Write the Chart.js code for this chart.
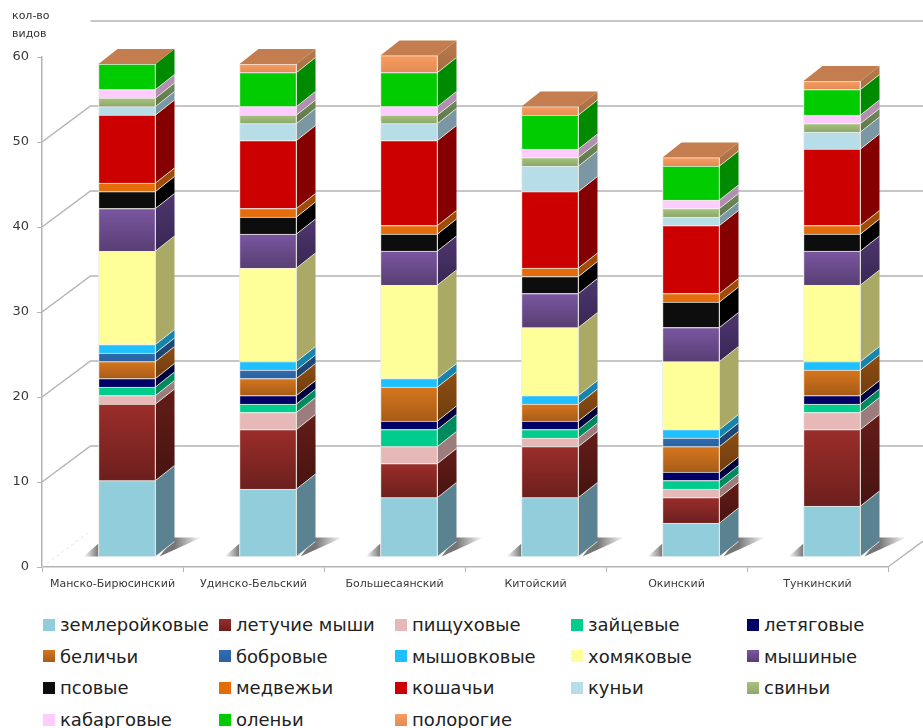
<!DOCTYPE html>
<html lang="ru">
  <head>
    <meta charset="UTF-8" />
    <title>Виды млекопитающих по районам</title>
    <script src="https://cdn.jsdelivr.net/npm/chart.js"></script>
    <style>
      body {
        margin: 0;
        background: #fff;
        font-family: "DejaVu Sans", sans-serif;
      }
      #page {
        position: relative;
        width: 923px;
        height: 728px;
        overflow: hidden;
      }
      canvas {
        position: absolute;
        left: 0;
        top: 0;
      }
      #yTitle {
        position: absolute;
        left: 12px;
        top: 7px;
        font-size: 11px;
        line-height: 18px;
        color: #333;
      }
      #legend {
        position: absolute;
        left: 43px;
        top: 609px;
        display: grid;
        grid-template-columns: repeat(5, 176px);
        grid-auto-rows: 31.6px;
        font-size: 18px;
        color: #222;
      }
      .item {
        display: flex;
        align-items: center;
        white-space: nowrap;
      }
      .swatch {
        width: 12px;
        height: 12px;
        margin-right: 5px;
      }
    </style>
  </head>
  <body>
    <div id="page">
      <canvas id="speciesChart" width="923" height="600"></canvas>
      <div id="yTitle">кол-во<br />видов</div>
      <div id="legend"></div>
    </div>

    <script>
      const districts = ["Манско-Бирюсинский", "Удинско-Бельский", "Большесаянский", "Китойский", "Окинский", "Тункинский"];

      // Species count per district, one array per family
      const zemleroikovye = [9, 8, 7, 7, 4, 6];
      const letuchieMyshi = [9, 7, 4, 6, 3, 9];
      const pishchukhovye = [1, 2, 2, 1, 1, 2];
      const zaitsevye = [1, 1, 2, 1, 1, 1];
      const letyagovye = [1, 1, 1, 1, 1, 1];
      const belichi = [2, 2, 4, 2, 3, 3];
      const bobrovye = [1, 1, 0, 0, 1, 0];
      const myshovkovye = [1, 1, 1, 1, 1, 1];
      const khomyakovye = [11, 11, 11, 8, 8, 9];
      const myshinye = [5, 4, 4, 4, 4, 4];
      const psovye = [2, 2, 2, 2, 3, 2];
      const medvezhi = [1, 1, 1, 1, 1, 1];
      const koshachi = [8, 8, 10, 9, 8, 9];
      const kuni = [1, 2, 2, 3, 1, 2];
      const svini = [1, 1, 1, 1, 1, 1];
      const kabargovye = [1, 1, 1, 1, 1, 1];
      const oleni = [3, 4, 4, 4, 4, 3];
      const polorogie = [0, 1, 2, 1, 1, 1];

      const seriesNames = ["землеройковые", "летучие мыши", "пищуховые", "зайцевые", "летяговые", "беличьи", "бобровые", "мышовковые", "хомяковые", "мышиные", "псовые", "медвежьи", "кошачьи", "куньи", "свиньи", "кабарговые", "оленьи", "полорогие"];
      const seriesValues = [zemleroikovye, letuchieMyshi, pishchukhovye, zaitsevye, letyagovye, belichi, bobrovye, myshovkovye, khomyakovye, myshinye, psovye, medvezhi, koshachi, kuni, svini, kabargovye, oleni, polorogie];

      const frontColors = ["#92cddc", "#9b2d2a", "#e6b8b7", "#00cc8e", "#000066", "#d6761e", "#2f6cb2", "#1fc0ff", "#ffff99", "#7a56a0", "#0d0d0d", "#e46c0a", "#cc0000", "#b7dde8", "#a6c47e", "#ffccff", "#00cc00", "#fa9c60"];
      const sideColors = ["#5b8290", "#641c18", "#9c7c7c", "#008a60", "#00003f", "#8e4e12", "#1f4a78", "#1585ad", "#aaaa66", "#4e3670", "#000000", "#a04c06", "#850000", "#7a97a3", "#6f8a58", "#b08fb0", "#008a00", "#b97a4a"];
      // How much each family darkens towards the bottom of its segment
      const shadeAmounts = [0, 0.3, 0, 0, 0, 0.22, 0.1, 0, 0, 0.28, 0, 0, 0, 0, 0.15, 0, 0, 0.1];
      const topColor = "#c47d4e";
      const lineColor = "#b4b4b4";

      const depthX = 19;
      const depthY = 15;
      const barShiftX = 14.5;
      const barShiftY = -10;
      const wallX = 48.5;
      const wallY = 36;

      function polygon(ctx, points, fill) {
        ctx.beginPath();
        points.forEach((p, i) => (i ? ctx.lineTo(p[0], p[1]) : ctx.moveTo(p[0], p[1])));
        ctx.closePath();
        ctx.fillStyle = fill;
        ctx.fill();
      }

      function shade(ctx, top, bottom, amount) {
        const g = ctx.createLinearGradient(0, top, 0, bottom);
        g.addColorStop(0, "rgba(0,0,0,0)");
        g.addColorStop(1, `rgba(0,0,0,${amount})`);
        return g;
      }

      // Back wall, floor and the shadows under the bars
      const wallPlugin = {
        id: "wall",
        beforeDatasetsDraw(chart) {
          const { ctx, chartArea: area, scales } = chart;
          ctx.save();
          ctx.strokeStyle = lineColor;
          ctx.lineWidth = 1.5;
          scales.y.ticks.forEach((tick) => {
            const y = scales.y.getPixelForValue(tick.value);
            if (tick.value === 0) return;
            ctx.beginPath();
            if (tick.value === 60) {
              ctx.moveTo(area.left + wallX, y - wallY);
            } else {
              ctx.moveTo(area.left, y);
              ctx.lineTo(area.left + wallX, y - wallY);
            }
            ctx.lineTo(chart.width, y - wallY);
            ctx.stroke();
          });

          const floorY = scales.y.getPixelForValue(0);
          ctx.beginPath();
          ctx.moveTo(area.right, floorY);
          ctx.lineTo(chart.width, floorY - 26);
          ctx.stroke();

          ctx.lineWidth = 1;
          ctx.strokeStyle = "#e2e2e2";
          ctx.setLineDash([3, 3]);
          ctx.beginPath();
          ctx.moveTo(area.left, floorY);
          ctx.lineTo(area.left + wallX, floorY - wallY);
          ctx.stroke();
          ctx.setLineDash([]);

          chart.getDatasetMeta(0).data.forEach((el) => {
            const x0 = el.x - el.width / 2 + barShiftX;
            const x1 = x0 + el.width;
            const base = el.base + barShiftY;
            const left = ctx.createLinearGradient(x0 - 15, 0, x0, 0);
            left.addColorStop(0, "rgba(110,110,110,0)");
            left.addColorStop(1, "rgba(110,110,110,0.95)");
            polygon(ctx, [[x0 - 15, base], [x0, base], [x0, base - 13]], left);
            const right = ctx.createLinearGradient(x1 + depthX, 0, x1 + 46, 0);
            right.addColorStop(0, "rgba(110,110,110,0.95)");
            right.addColorStop(1, "rgba(110,110,110,0)");
            polygon(ctx, [[x1 + 4, base], [x1 + 46, base - 19], [x1 + depthX, base - 19]], right);
          });
          ctx.restore();

          // the bars stand a little behind the front edge of the floor
          ctx.save();
          ctx.translate(barShiftX, barShiftY);
        },
        afterDatasetsDraw(chart) {
          const { ctx } = chart;
          chart.data.datasets.forEach((ds, i) => {
            chart.getDatasetMeta(i).data.forEach((el) => {
              if (el.base - el.y < 0.5) return;
              const x0 = el.x - el.width / 2;
              const x1 = x0 + el.width;
              const side = [[x1, el.base], [x1 + depthX, el.base - depthY], [x1 + depthX, el.y - depthY], [x1, el.y]];
              polygon(ctx, side, sideColors[i]);
              if (shadeAmounts[i]) {
                polygon(ctx, [[x0 + 1, el.y + 1], [x1 - 1, el.y + 1], [x1 - 1, el.base], [x0 + 1, el.base]], shade(ctx, el.y, el.base, shadeAmounts[i]));
                polygon(ctx, side, shade(ctx, el.y - depthY, el.base, shadeAmounts[i]));
              }
              // light edge along the segment joint
              ctx.strokeStyle = "rgba(235,235,225,0.85)";
              ctx.lineWidth = 1;
              ctx.beginPath();
              ctx.moveTo(x1, el.base);
              ctx.lineTo(x1 + depthX, el.base - depthY);
              ctx.moveTo(x1, el.y);
              ctx.lineTo(x1, el.base);
              ctx.stroke();
            });
          });

          // cap of each column, on top of the last stacked series
          chart.getDatasetMeta(chart.data.datasets.length - 1).data.forEach((el) => {
            const x0 = el.x - el.width / 2;
            const x1 = x0 + el.width;
            polygon(ctx, [[x0, el.y], [x1, el.y], [x1 + depthX, el.y - depthY], [x0 + depthX, el.y - depthY]], topColor);
          });
          ctx.restore();
        },
      };

      new Chart(document.getElementById("speciesChart"), {
        type: "bar",
        data: {
          labels: districts,
          datasets: seriesNames.map((name, i) => ({
            label: name,
            data: seriesValues[i],
            backgroundColor: frontColors[i],
            borderColor: "#ecece4",
            borderWidth: 1,
            barThickness: 57,
            clip: false,
          })),
        },
        options: {
          responsive: false,
          animation: false,
          layout: { padding: { top: 57, right: 35 } },
          plugins: {
            legend: { display: false },
            tooltip: { enabled: false },
          },
          scales: {
            x: {
              stacked: true,
              afterFit: (scale) => { scale.height = 33; },
              grid: { drawOnChartArea: false, color: lineColor, tickLength: 5 },
              border: { color: lineColor, width: 1.5 },
              ticks: { color: "#3a3a3a", maxRotation: 0, padding: 6, font: { family: "DejaVu Sans", size: 11 } },
            },
            y: {
              stacked: true,
              min: 0,
              max: 60,
              afterFit: (scale) => { scale.width = 42; },
              grid: { drawOnChartArea: false, color: lineColor, tickLength: 5 },
              border: { color: lineColor, width: 1.5 },
              ticks: { stepSize: 10, color: "#3a3a3a", padding: 8, font: { family: "DejaVu Sans", size: 13 } },
            },
          },
        },
        plugins: [wallPlugin],
      });

      // Legend laid out in five even columns under the chart
      const legend = document.getElementById("legend");
      seriesNames.forEach((name, i) => {
        const item = document.createElement("div");
        item.className = "item";
        const swatch = document.createElement("span");
        swatch.className = "swatch";
        swatch.style.background = shadeAmounts[i]
          ? `linear-gradient(rgba(0,0,0,0), rgba(0,0,0,${shadeAmounts[i]})), ${frontColors[i]}`
          : frontColors[i];
        item.appendChild(swatch);
        item.appendChild(document.createTextNode(name));
        legend.appendChild(item);
      });
    </script>
  </body>
</html>
